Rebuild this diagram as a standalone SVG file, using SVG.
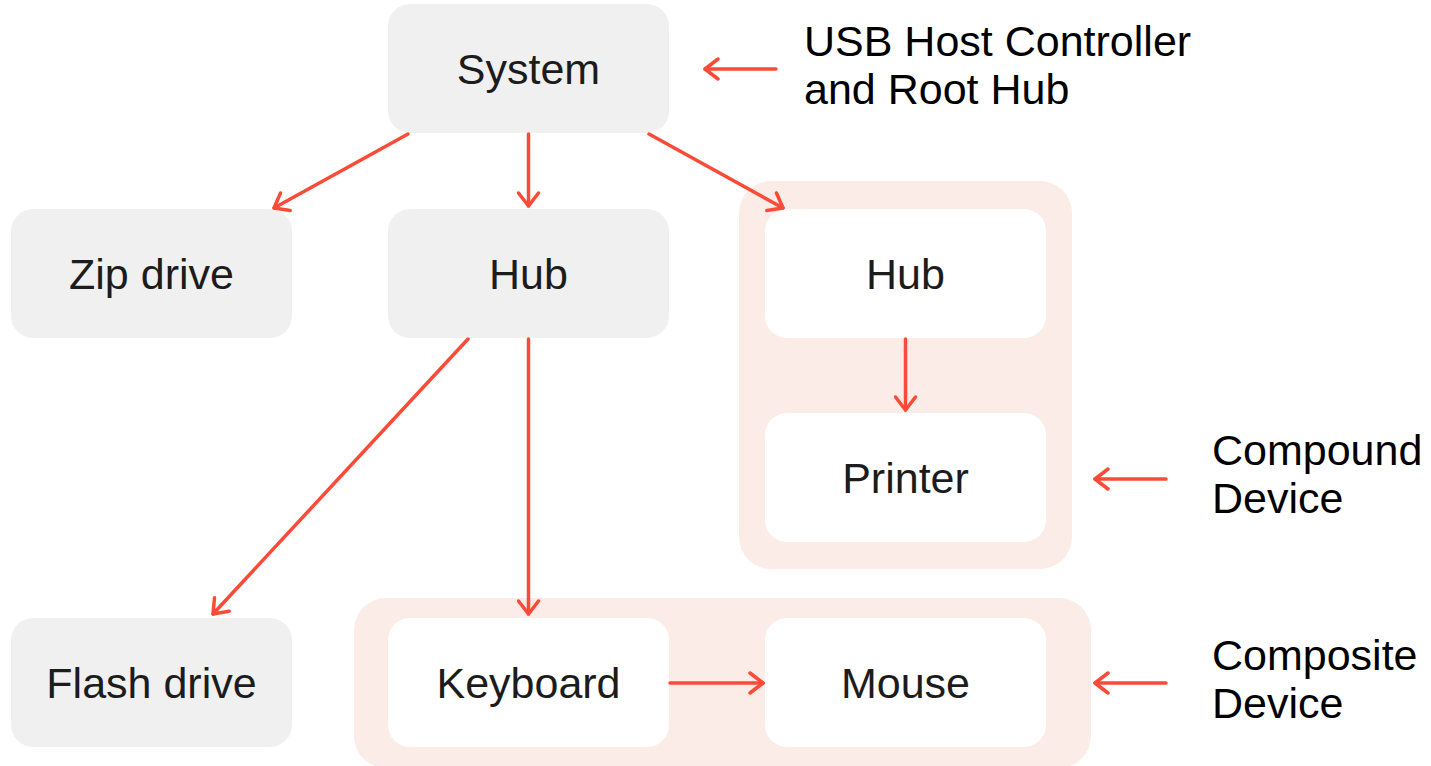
<svg xmlns="http://www.w3.org/2000/svg" width="1431" height="766" viewBox="0 0 1431 766">
<style>
.node{fill:#f0f0f0}
.inner{fill:#ffffff}
.group{fill:#fcece8}
.t{font-family:"Liberation Sans",Arial,sans-serif;font-size:43px;fill:#1c1c1c;text-anchor:middle}
.lbl{font-family:"Liberation Sans",Arial,sans-serif;font-size:43px;fill:#000}
.c{stroke:#fa4b38;stroke-width:3.5;fill:none;stroke-linecap:round}
</style>
<defs>
<marker id="ah2" viewBox="0 0 24 24" refX="22" refY="12" markerWidth="24" markerHeight="24" markerUnits="userSpaceOnUse" orient="auto">
<path d="M9,2 L22,12 L9,22" fill="none" stroke="#fa4b38" stroke-width="3.5" stroke-linecap="round" stroke-linejoin="round"/>
</marker>
</defs>
<rect width="1431" height="766" fill="#ffffff"/>
<g id="compound-device">
<rect class="group" x="739" y="181" width="333" height="388" rx="32"/>
</g>
<g id="composite-device">
<rect class="group" x="354" y="598" width="737" height="170" rx="32"/>
</g>
<g id="system"><rect class="node" x="388" y="4" width="281" height="129" rx="22"/><text class="t" x="528.5" y="84">System</text></g>
<g id="zip-drive"><rect class="node" x="11" y="209" width="281" height="129" rx="22"/><text class="t" x="151.5" y="289">Zip drive</text></g>
<g id="hub"><rect class="node" x="388" y="209" width="281" height="129" rx="22"/><text class="t" x="528.5" y="289">Hub</text></g>
<g id="hub2"><rect class="inner" x="765" y="209" width="281" height="129" rx="22"/><text class="t" x="905.5" y="289">Hub</text></g>
<g id="printer"><rect class="inner" x="765" y="413" width="281" height="129" rx="22"/><text class="t" x="905.5" y="493">Printer</text></g>
<g id="flash-drive"><rect class="node" x="11" y="618" width="281" height="129" rx="22"/><text class="t" x="151.5" y="698">Flash drive</text></g>
<g id="keyboard"><rect class="inner" x="388" y="618" width="281" height="129" rx="22"/><text class="t" x="528.5" y="698">Keyboard</text></g>
<g id="mouse"><rect class="inner" x="765" y="618" width="281" height="129" rx="22"/><text class="t" x="905.5" y="698">Mouse</text></g>
<g id="labels">
<text class="lbl" x="804" y="56">USB Host Controller</text>
<text class="lbl" x="804" y="104">and Root Hub</text>
<text class="lbl" x="1212" y="465">Compound</text>
<text class="lbl" x="1212" y="513">Device</text>
<text class="lbl" x="1212" y="670">Composite</text>
<text class="lbl" x="1212" y="718">Device</text>
</g>
<g id="connectors">
<line class="c" x1="408" y1="134" x2="274" y2="208" marker-end="url(#ah2)"/>
<line class="c" x1="528.5" y1="134" x2="528.5" y2="206" marker-end="url(#ah2)"/>
<line class="c" x1="649" y1="134" x2="783" y2="208" marker-end="url(#ah2)"/>
<line class="c" x1="468" y1="339" x2="213" y2="614" marker-end="url(#ah2)"/>
<line class="c" x1="528.5" y1="339" x2="528.5" y2="614" marker-end="url(#ah2)"/>
<line class="c" x1="905.5" y1="339" x2="905.5" y2="410" marker-end="url(#ah2)"/>
<line class="c" x1="670" y1="683" x2="763" y2="683" marker-end="url(#ah2)"/>
<line class="c" x1="776" y1="69" x2="705" y2="69" marker-end="url(#ah2)"/>
<line class="c" x1="1166" y1="479" x2="1095" y2="479" marker-end="url(#ah2)"/>
<line class="c" x1="1166" y1="683" x2="1095" y2="683" marker-end="url(#ah2)"/>
</g>
</svg>
